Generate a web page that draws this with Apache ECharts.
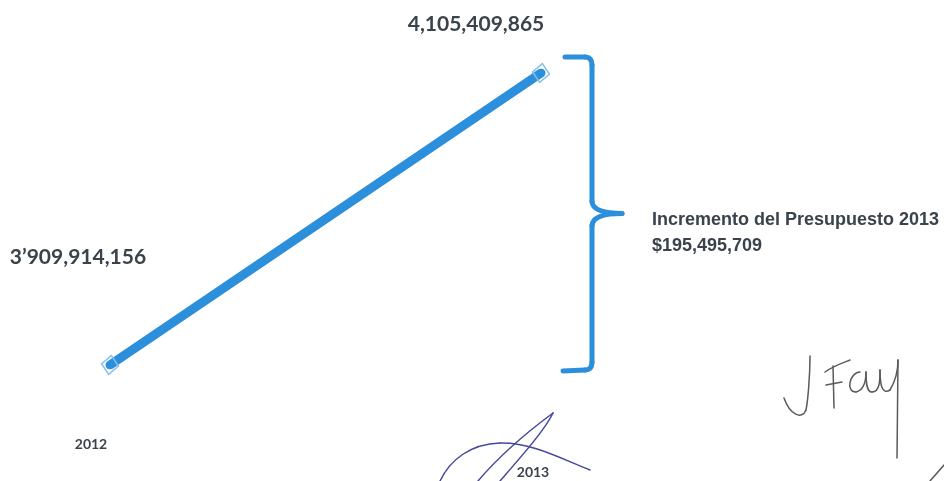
<!DOCTYPE html>
<html>
<head>
<meta charset="utf-8">
<script src="https://cdn.jsdelivr.net/npm/echarts@6/dist/echarts.min.js"></script>
<style>
html,body{margin:0;padding:0;background:#fff;}
#chart{width:944px;height:481px;}
</style>
</head>
<body>
<div id="chart"></div>
<script>
const categories = ['2012', '2013'];
const budget = [3909914156, 4105409865];
const valueLabels = ['3\u2019909,914,156', '4,105,409,865'];
const increaseTitle = 'Incremento del Presupuesto 2013';
const increaseValue = '$195,495,709';

const blue = '#2b8fdc';
const textColor = '#3a434c';

const chart = echarts.init(document.getElementById('chart'), null, {renderer: 'canvas'});

const labelOffsets = [[-32, -108], [-65, -49]];

chart.setOption({
  animation: false,
  backgroundColor: '#ffffff',
  grid: {left: 110, right: 403, top: 73, bottom: 116, containLabel: false},
  xAxis: {
    type: 'category',
    data: categories,
    boundaryGap: false,
    axisLine: {show: false},
    axisTick: {show: false},
    splitLine: {show: false},
    axisLabel: {
      margin: 0,
      interval: 0,
      formatter: function (v, i) { return i === 0 ? '{a|' + v + '}' : '{b|' + v + '}'; },
      rich: {
        a: {fontFamily: 'Lato', fontWeight: 'bold', fontSize: 14, color: textColor, padding: [72, 38, 0, 0]},
        b: {fontFamily: 'Lato', fontWeight: 'bold', fontSize: 14, color: textColor, padding: [100, 16, 0, 0]}
      }
    }
  },
  yAxis: {
    type: 'value',
    min: budget[0],
    max: budget[1],
    show: false,
    splitLine: {show: false}
  },
  series: [{
    type: 'line',
    data: budget.map(function (v, i) {
      return {
        value: v,
        label: {
          show: true,
          position: 'inside',
          offset: labelOffsets[i],
          formatter: valueLabels[i],
          fontFamily: 'Lato',
          fontWeight: 'bold',
          fontSize: 21,
          color: textColor
        }
      };
    }),
    lineStyle: {color: blue, width: 9, cap: 'round'},
    symbol: 'diamond',
    symbolSize: [17, 19],
    symbolRotate: -8,
    itemStyle: {color: 'rgba(255,255,255,0)', borderColor: '#86c0ea', borderWidth: 1.5},
    z: 3
  }]
});

function seg(x1, y1, x2, y2, color, w) {
  return {type: 'line', shape: {x1: x1, y1: y1, x2: x2, y2: y2},
    style: {stroke: color, lineWidth: w, lineCap: 'round'}, z: 5};
}
function quad(x1, y1, cx, cy, x2, y2, color, w) {
  return {type: 'bezierCurve', shape: {x1: x1, y1: y1, cpx1: cx, cpy1: cy, x2: x2, y2: y2},
    style: {stroke: color, lineWidth: w, fill: null, lineCap: 'round'}, z: 5};
}
function cubic(x1, y1, c1x, c1y, c2x, c2y, x2, y2, color, w) {
  return {type: 'bezierCurve', shape: {x1: x1, y1: y1, cpx1: c1x, cpy1: c1y, cpx2: c2x, cpy2: c2y, x2: x2, y2: y2},
    style: {stroke: color, lineWidth: w, fill: null, lineCap: 'round'}, z: 4};
}

// Brace and annotation positioned from the data through the chart's own scales
const pTop = chart.convertToPixel({gridIndex: 0}, [categories[1], budget[1]]);
const pBot = chart.convertToPixel({gridIndex: 0}, [categories[0], budget[0]]);
const xv = pTop[0] + 51;
const yT = pTop[1] - 16;
const yB = pBot[1] + 5;
const yM = (yT + yB) / 2;
const tipX = xv + 30;

const g = [];
g.push(seg(xv - 27, yT, xv - 7, yT, blue, 5));
g.push(quad(xv - 7, yT, xv, yT, xv, yT + 8, blue, 5));
g.push(seg(xv, yT + 8, xv, yM - 12, blue, 5));
g.push(quad(xv, yM - 12, xv + 1, yM, tipX, yM, blue, 5));
g.push(quad(tipX, yM, xv + 1, yM, xv, yM + 12, blue, 5));
g.push(seg(xv, yM + 12, xv, yB - 8, blue, 5));
g.push(quad(xv, yB - 8, xv, yB, xv - 7, yB, blue, 5));
g.push(seg(xv - 7, yB, xv - 29, yB + 1, blue, 5));

g.push({type: 'text', left: tipX + 30, top: yM - 2,
  style: {text: increaseTitle, font: 'bold 18px "Liberation Sans"', fill: textColor}});
g.push({type: 'text', left: tipX + 30, top: yM + 24,
  style: {text: increaseValue, font: 'bold 18px "Liberation Sans"', fill: textColor}});

// decorative signatures
const sigA = '#45499a';
g.push(cubic(553, 413, 530, 430, 500, 455, 478, 481, sigA, 1.5));
g.push(cubic(553, 413, 545, 430, 520, 458, 500, 481, sigA, 1.5));
g.push(cubic(440, 481, 450, 460, 470, 444, 500, 443, sigA, 1.5));
g.push(cubic(500, 443, 530, 442, 560, 458, 590, 470, sigA, 1.5));

const sigB = '#5a5a5a';
g.push(cubic(810, 356, 810, 375, 808, 400, 806, 410, sigB, 1.5));
g.push(cubic(806, 410, 802, 420, 790, 415, 784, 398, sigB, 1.5));
g.push(cubic(825, 372, 833, 366, 845, 362, 850, 360, sigB, 1.5));
g.push(seg(833, 366, 834, 408, sigB, 1.5));
g.push(seg(826, 385, 842, 382, sigB, 1.5));
g.push(cubic(860, 372, 850, 372, 845, 392, 856, 392, sigB, 1.5));
g.push(cubic(856, 392, 864, 390, 866, 380, 866, 372, sigB, 1.5));
g.push(cubic(866, 372, 866, 380, 866, 392, 872, 392, sigB, 1.5));
g.push(cubic(872, 392, 880, 392, 880, 380, 880, 370, sigB, 1.5));
g.push(cubic(880, 370, 880, 385, 882, 395, 890, 390, sigB, 1.5));
g.push(cubic(890, 390, 896, 380, 898, 368, 898, 360, sigB, 1.5));
g.push(seg(898, 360, 897, 458, sigB, 1.5));
g.push(seg(930, 481, 944, 465, sigB, 1.5));

chart.setOption({graphic: g});
</script>
</body>
</html>
